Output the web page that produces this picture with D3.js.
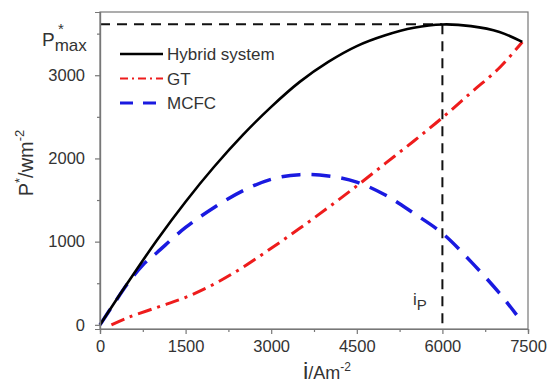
<!DOCTYPE html>
<html>
<head>
<meta charset="utf-8">
<script src="https://cdn.jsdelivr.net/npm/d3@7"></script>
<style>
  body { margin: 0; background: #fff; }
  svg { font-family: "Liberation Sans", Arial, sans-serif; }
</style>
</head>
<body>
<svg id="chart" width="550" height="385"></svg>
<script>
// current density (A/m2) and power density (W/m2)
const hybridI = [0, 500, 1000, 1500, 2000, 2500, 3000, 3500, 4000, 4500, 5000, 5500, 6000, 6500, 7000, 7400];
const hybridP = [0, 520, 1020, 1480, 1900, 2280, 2620, 2920, 3160, 3350, 3480, 3570, 3610, 3590, 3520, 3400];

const gtI = [200, 500, 1000, 1500, 2000, 2500, 3000, 3500, 4000, 4500, 5000, 5500, 6000, 6500, 7000, 7400];
const gtP = [0, 90, 210, 330, 490, 690, 920, 1160, 1410, 1670, 1940, 2210, 2490, 2790, 3090, 3400];

const mcfcI = [0, 250, 500, 750, 1000, 1500, 2000, 2500, 3000, 3500, 4000, 4500, 5000, 5500, 6000, 6500, 7000, 7300];
const mcfcP = [0, 260, 510, 720, 870, 1170, 1410, 1610, 1750, 1805, 1790, 1715, 1560, 1340, 1100, 760, 380, 120];

const xTicks = [0, 1500, 3000, 4500, 6000, 7500];
const yTicks = [0, 1000, 2000, 3000];
const pMax = 3613;
const iP = 6000;

const svg = d3.select("#chart");
const pLeft = 100, pRight = 528, pTop = 12, pBottom = 329;

const x = d3.scaleLinear().domain([0, 7500]).range([pLeft, pRight]);
const y = d3.scaleLinear().domain([-50, 3760]).range([pBottom, pTop]);

// dashed guides for the maximum power point
svg.append("line")
  .attr("x1", pLeft).attr("x2", x(iP))
  .attr("y1", y(pMax)).attr("y2", y(pMax))
  .attr("stroke", "#111").attr("stroke-width", 2)
  .attr("stroke-dasharray", "10,7");
svg.append("line")
  .attr("x1", x(iP)).attr("x2", x(iP))
  .attr("y1", y(pMax)).attr("y2", pBottom)
  .attr("stroke", "#111").attr("stroke-width", 2)
  .attr("stroke-dasharray", "10,7");

const line = d3.line().curve(d3.curveCatmullRom.alpha(0.5));
const pts = (xs, ys) => xs.map((v, i) => [x(v), y(ys[i])]);

svg.append("path")
  .attr("d", line(pts(gtI, gtP)))
  .attr("fill", "none").attr("stroke", "#ee1c1c").attr("stroke-width", 3)
  .attr("stroke-dasharray", "14,6,3,6");

svg.append("path")
  .attr("d", line(pts(mcfcI, mcfcP)))
  .attr("fill", "none").attr("stroke", "#1a1ae0").attr("stroke-width", 3.5)
  .attr("stroke-dasharray", "19,11");

svg.append("path")
  .attr("d", line(pts(hybridI, hybridP)))
  .attr("fill", "none").attr("stroke", "#000").attr("stroke-width", 2.6);

// frame
svg.append("rect")
  .attr("x", pLeft).attr("y", pTop)
  .attr("width", pRight - pLeft).attr("height", pBottom - pTop)
  .attr("fill", "none").attr("stroke", "#777").attr("stroke-width", 1.2);

// axes
svg.append("g").attr("transform", `translate(0,${pBottom})`)
  .call(d3.axisBottom(x).tickValues(xTicks).tickFormat(d3.format("d")).tickSize(5).tickPadding(6));
svg.append("g").attr("transform", `translate(0,${pBottom})`)
  .call(d3.axisBottom(x).tickValues(d3.range(750, 7500, 1500)).tickSize(3).tickFormat(""));
svg.append("g").attr("transform", `translate(${pLeft},0)`)
  .call(d3.axisLeft(y).tickValues(yTicks).tickFormat(d3.format("d")).tickSize(5).tickPadding(10));
svg.append("g").attr("transform", `translate(${pLeft},0)`)
  .call(d3.axisLeft(y).tickValues([500, 1500, 2500, 3500]).tickSize(3).tickFormat(""));

svg.selectAll(".domain").attr("stroke", "#777").attr("stroke-width", 1.2);
svg.selectAll(".tick line").attr("stroke", "#777").attr("stroke-width", 1.2);
svg.selectAll(".tick text")
  .attr("font-family", "Liberation Sans, Arial, sans-serif")
  .attr("font-size", 16.5).attr("fill", "#333");

// legend
const legend = [
  { name: "Hybrid system", color: "#000", dash: null, w: 2.6 },
  { name: "GT", color: "#ee1c1c", dash: "8,4,2,4", w: 2 },
  { name: "MCFC", color: "#1a1ae0", dash: "13,10", w: 3 }
];
legend.forEach((d, i) => {
  const ly = 54 + i * 24.5;
  svg.append("line")
    .attr("x1", 120).attr("x2", 163).attr("y1", ly).attr("y2", ly)
    .attr("stroke", d.color).attr("stroke-width", d.w)
    .attr("stroke-dasharray", d.dash);
  svg.append("text")
    .attr("x", 167).attr("y", ly + 6)
    .attr("font-size", 17).attr("fill", "#333")
    .text(d.name);
});

// P*max label
const pm = svg.append("text").attr("x", 42).attr("y", 46).attr("fill", "#333").attr("font-size", 19);
pm.append("tspan").text("P");
pm.append("tspan").attr("font-size", 17).attr("dy", 5).text("max");
svg.append("text").attr("x", 58).attr("y", 34).attr("fill", "#333").attr("font-size", 15).text("*");

// iP label
const ip = svg.append("text").attr("x", 413).attr("y", 305).attr("fill", "#333").attr("font-size", 17);
ip.append("tspan").text("i");
ip.append("tspan").attr("font-size", 15).attr("dy", 5).text("P");

// y title
const yt = svg.append("text")
  .attr("transform", "translate(33,163) rotate(-90)")
  .attr("text-anchor", "middle").attr("fill", "#333").attr("font-size", 20);
yt.append("tspan").text("P");
yt.append("tspan").attr("font-size", 13).attr("dy", -9).text("*");
yt.append("tspan").attr("dy", 9).text("/wm");
yt.append("tspan").attr("font-size", 13).attr("dy", -9).text("-2");

// x title
const xt = svg.append("text")
  .attr("x", 327).attr("y", 379)
  .attr("text-anchor", "middle").attr("fill", "#333").attr("font-size", 18);
xt.append("tspan").attr("font-size", 24).text("i");
xt.append("tspan").text("/Am");
xt.append("tspan").attr("font-size", 12).attr("dy", -8).text("-2");
</script>
</body>
</html>
